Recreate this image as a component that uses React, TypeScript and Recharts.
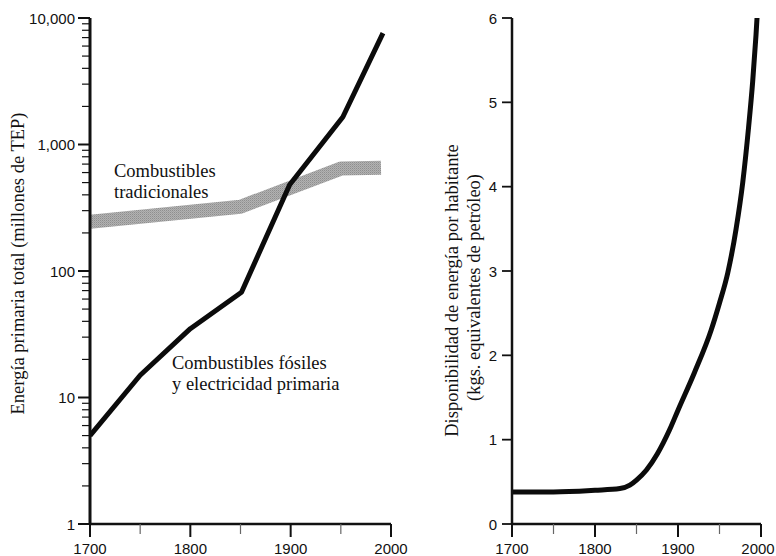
import React from 'react';
import { LineChart, Line, XAxis, YAxis } from 'recharts';

// ---- data ----
const yearTicks = [1700, 1750, 1800, 1850, 1900, 1950, 2000];
const yearLabels = [1700, 1800, 1900, 2000];
const logMajorTicks = [1, 10, 100, 1000, 10000];
const logMinorSteps = [2, 3, 4, 5, 6, 7, 8, 9];
const perCapitaTicks = [0, 1, 2, 3, 4, 5, 6];

const fossilYears = [1700, 1750, 1800, 1851, 1899, 1952, 1992];
const fossilValues = [5, 15, 35, 68, 480, 1650, 7600];

const traditionalYears = [1700, 1850, 1950, 1990];
const traditionalValues = [245, 322, 645, 655];

const perCapitaYears = [1700, 1750, 1800, 1830, 1842, 1850, 1862, 1875, 1890, 1900, 1920, 1940, 1950, 1960, 1970, 1978, 1985, 1990, 1994, 1997];
const perCapitaValues = [0.38, 0.38, 0.4, 0.42, 0.46, 0.52, 0.64, 0.83, 1.12, 1.35, 1.8, 2.3, 2.62, 2.98, 3.5, 4.05, 4.7, 5.25, 5.8, 6.3];

const fossilData = fossilYears.map((year, i) => ({ year, value: fossilValues[i] }));
const traditionalData = traditionalYears.map((year, i) => ({ year, value: traditionalValues[i] }));
const perCapitaData = perCapitaYears.map((year, i) => ({ year, value: perCapitaValues[i] }));

const logTicks = logMajorTicks.flatMap((m) => (m === 10000 ? [m] : [m, ...logMinorSteps.map((s) => s * m)]));

const SANS = '"Liberation Sans", Arial, Helvetica, sans-serif';
const SERIF = '"Liberation Serif", "Times New Roman", Times, serif';
const INK = '#111';

const LogYTick = (props: any) => {
  const { x, y, payload } = props;
  const v = payload.value;
  const major = logMajorTicks.includes(v);
  const len = major ? 12 : 8;
  return (
    <g>
      <line x1={x - len} y1={y} x2={x} y2={y} stroke={INK} strokeWidth={major ? 2 : 1.2} />
      {major && (
        <text x={x - len - 3} y={y} textAnchor="end" dominantBaseline="central" fontFamily={SANS} fontSize={15} fill={INK}>
          {v.toLocaleString('en-US')}
        </text>
      )}
    </g>
  );
};

const LinearYTick = (props: any) => {
  const { x, y, payload } = props;
  const v = payload.value;
  return (
    <g>
      <line x1={x - 10} y1={y} x2={x} y2={y} stroke={INK} strokeWidth={1.8} />
      <text x={x - 15} y={y} textAnchor="end" dominantBaseline="central" fontFamily={SANS} fontSize={15} fill={INK}>
        {v}
      </text>
    </g>
  );
};

const YearTick = (props: any) => {
  const { x, y, payload, maxTextX } = props;
  const v = payload.value;
  const major = yearLabels.includes(v);
  const tx = maxTextX != null ? Math.min(x, maxTextX) : x;
  return (
    <g>
      <line x1={x} y1={y} x2={x} y2={y + (major ? 13 : 10)} stroke={major ? INK : '#666'} strokeWidth={major ? 2 : 1.2} />
      {major && (
        <text x={tx} y={y + 24} textAnchor="middle" dominantBaseline="central" fontFamily={SANS} fontSize={15} fill={INK}>
          {v}
        </text>
      )}
    </g>
  );
};

export default function App() {
  return (
    <div style={{ position: 'absolute', left: 0, top: 0, width: 776, height: 556, background: '#fff', overflow: 'hidden' }}>
      <div style={{ position: 'absolute', left: 0, top: 0 }}>
        <LineChart width={430} height={556} margin={{ top: 18, right: 39, bottom: 0, left: 0 }}>
          <defs>
            <pattern id="stipple" width="2" height="2" patternUnits="userSpaceOnUse">
              <rect width="2" height="2" fill="#b2b2b2" />
              <rect x="0" y="0" width="1" height="1" fill="#8e8e8e" />
              <rect x="1" y="1" width="1" height="1" fill="#a0a0a0" />
            </pattern>
          </defs>
          <XAxis
            xAxisId="b"
            dataKey="year"
            type="number"
            domain={[1700, 2000]}
            ticks={yearTicks}
            interval={0}
            height={32}
            tickSize={0}
            tickMargin={0}
            tick={<YearTick />}
            tickLine={false}
            axisLine={{ stroke: INK, strokeWidth: 2.5 }}
            allowDataOverflow
          />
          <XAxis xAxisId="t" orientation="top" type="number" domain={[1700, 2000]} height={0} tick={false} tickLine={false} axisLine={{ stroke: INK, strokeWidth: 2 }} />
          <YAxis
            yAxisId="l"
            scale="log"
            type="number"
            domain={[1, 10000]}
            ticks={logTicks}
            interval={0}
            width={90}
            tickSize={0}
            tickMargin={0}
            tick={<LogYTick />}
            tickLine={false}
            axisLine={{ stroke: INK, strokeWidth: 3 }}
            allowDataOverflow
          />
          <YAxis yAxisId="r" orientation="right" type="number" domain={[0, 1]} width={0} tick={false} tickLine={false} axisLine={{ stroke: INK, strokeWidth: 1.6 }} />
          <Line
            xAxisId="b"
            yAxisId="l"
            data={traditionalData}
            dataKey="value"
            type="linear"
            stroke="url(#stipple)"
            strokeWidth={14}
            strokeLinejoin="round"
            strokeLinecap="butt"
            dot={false}
            activeDot={false}
            isAnimationActive={false}
          />
          <Line
            xAxisId="b"
            yAxisId="l"
            data={fossilData}
            dataKey="value"
            type="linear"
            stroke="#0b0b0b"
            strokeWidth={5}
            strokeLinejoin="round"
            strokeLinecap="butt"
            dot={false}
            activeDot={false}
            isAnimationActive={false}
          />
        </LineChart>
      </div>

      <div style={{ position: 'absolute', left: 430, top: 0 }}>
        <LineChart width={346} height={556} margin={{ top: 18, right: 15, bottom: 0, left: 0 }}>
          <XAxis
            xAxisId="b"
            dataKey="year"
            type="number"
            domain={[1700, 2000]}
            ticks={yearTicks}
            interval={0}
            height={32}
            tickSize={0}
            tickMargin={0}
            tick={<YearTick maxTextX={328} />}
            tickLine={false}
            axisLine={{ stroke: INK, strokeWidth: 2.5 }}
            allowDataOverflow
          />
          <XAxis xAxisId="t" orientation="top" type="number" domain={[1700, 2000]} height={0} tick={false} tickLine={false} axisLine={{ stroke: INK, strokeWidth: 2 }} />
          <YAxis
            yAxisId="l"
            type="number"
            domain={[0, 6]}
            ticks={perCapitaTicks}
            interval={0}
            width={82}
            tickSize={0}
            tickMargin={0}
            tick={<LinearYTick />}
            tickLine={false}
            axisLine={{ stroke: INK, strokeWidth: 2.5 }}
            allowDataOverflow
          />
          <YAxis yAxisId="r" orientation="right" type="number" domain={[0, 6]} width={0} tick={false} tickLine={false} axisLine={{ stroke: INK, strokeWidth: 2.2 }} />
          <Line
            xAxisId="b"
            yAxisId="l"
            data={perCapitaData}
            dataKey="value"
            type="monotone"
            stroke="#0b0b0b"
            strokeWidth={5}
            strokeLinecap="butt"
            dot={false}
            activeDot={false}
            isAnimationActive={false}
          />
        </LineChart>
      </div>

      <svg width={776} height={556} style={{ position: 'absolute', left: 0, top: 0, pointerEvents: 'none' }}>
        <g fontFamily={SERIF} fontSize={18.5} fill={INK}>
          <text transform="translate(18,263.5) rotate(-90)" textAnchor="middle" dominantBaseline="central">
            Energía primaria total (millones de TEP)
          </text>
          <text transform="translate(451.5,290.5) rotate(-90)" textAnchor="middle" dominantBaseline="central">
            Disponibilidad de energía por habitante
          </text>
          <text transform="translate(473.5,287.5) rotate(-90)" textAnchor="middle" dominantBaseline="central">
            (kgs. equivalentes de petróleo)
          </text>
          <text x={114} y={177}>Combustibles</text>
          <text x={114} y={198}>tradicionales</text>
          <text x={172} y={369}>Combustibles fósiles</text>
          <text x={172} y={390}>y electricidad primaria</text>
        </g>
      </svg>
    </div>
  );
}
